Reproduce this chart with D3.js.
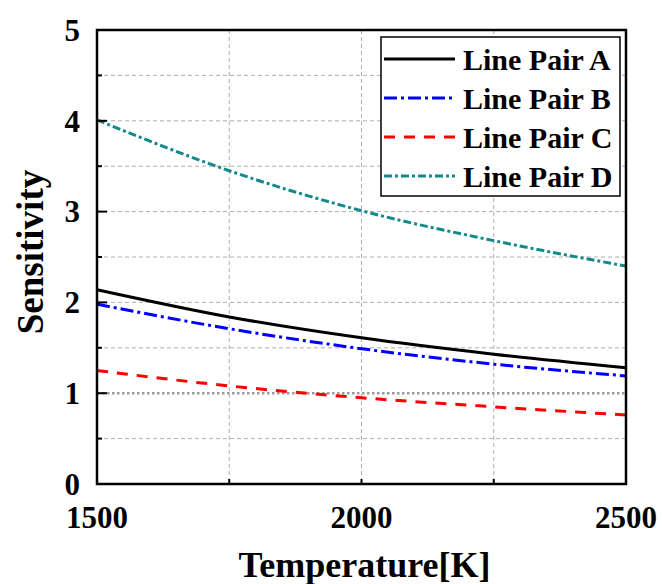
<!DOCTYPE html>
<html>
<head>
<meta charset="utf-8">
<script src="https://cdn.jsdelivr.net/npm/d3@7"></script>
<style>
  body { margin: 0; background: #fff; }
  text { font-family: "Liberation Serif", "Times New Roman", serif; font-weight: bold; }
</style>
</head>
<body>
<svg width="662" height="584"></svg>
<script>
const temperature = [1500, 1750, 2000, 2250, 2500];
const pairA = [2.14, 1.84, 1.61, 1.43, 1.28];
const pairB = [1.98, 1.71, 1.49, 1.32, 1.19];
const pairC = [1.25, 1.08, 0.95, 0.85, 0.76];
const pairD = [4.01, 3.45, 3.01, 2.68, 2.40];
const seriesNames = ["Line Pair A", "Line Pair B", "Line Pair C", "Line Pair D"];
const xTicks = [1500, 2000, 2500];
const yTicks = [0, 1, 2, 3, 4, 5];

const svg = d3.select("svg"),
    margin = {top: 30, right: 36, bottom: 100, left: 97},
    width = +svg.attr("width") - margin.left - margin.right,
    height = +svg.attr("height") - margin.top - margin.bottom,
    g = svg.append("g").attr("transform", "translate(" + margin.left + "," + margin.top + ")");

const x = d3.scaleLinear().domain([1500, 2500]).range([0, width]);
const y = d3.scaleLinear().domain([0, 5]).range([height, 0]);

// grid
g.append("g")
    .selectAll("line")
    .data(d3.range(0.5, 5, 0.5).filter(v => v !== 1))
  .enter().append("line")
    .attr("x1", 0).attr("x2", width)
    .attr("y1", d => y(d)).attr("y2", d => y(d))
    .attr("stroke", "#b0b0b0").attr("stroke-width", 1).attr("stroke-dasharray", "4,3");

g.append("g")
    .selectAll("line")
    .data([1750, 2000, 2250])
  .enter().append("line")
    .attr("y1", 0).attr("y2", height)
    .attr("x1", d => x(d)).attr("x2", d => x(d))
    .attr("stroke", "#b0b0b0").attr("stroke-width", 1).attr("stroke-dasharray", "4,3");

// reference line at 1
g.append("line")
    .attr("x1", 0).attr("x2", width)
    .attr("y1", y(1)).attr("y2", y(1))
    .attr("stroke", "#999").attr("stroke-width", 2.5).attr("stroke-dasharray", "2.5,2.5");

const series = [
  {name: seriesNames[0], values: pairA, color: "#000000", dash: null},
  {name: seriesNames[1], values: pairB, color: "#0000ff", dash: "13,4,3,4"},
  {name: seriesNames[2], values: pairC, color: "#ff0000", dash: "11,9"},
  {name: seriesNames[3], values: pairD, color: "#128a8a", dash: "8,3,3,3"}
];

const line = d3.line()
    .x((d, i) => x(temperature[i]))
    .y(d => y(d))
    .curve(d3.curveMonotoneX);

series.forEach(s => {
  g.append("path")
      .datum(s.values)
      .attr("fill", "none")
      .attr("stroke", s.color)
      .attr("stroke-width", 3)
      .attr("stroke-dasharray", s.dash)
      .attr("d", line);
});

// axes ticks inward
g.append("g")
    .selectAll("line")
    .data(d3.range(0, 5.01, 0.5))
  .enter().append("line")
    .attr("x1", 0).attr("x2", d => Number.isInteger(d) ? 10 : 5)
    .attr("y1", d => y(d)).attr("y2", d => y(d))
    .attr("stroke", "#000").attr("stroke-width", 2);

g.append("g")
    .selectAll("line")
    .data([1750, 2000, 2250])
  .enter().append("line")
    .attr("y1", height).attr("y2", height - 5)
    .attr("x1", d => x(d)).attr("x2", d => x(d))
    .attr("stroke", "#000").attr("stroke-width", 2);

// frame
g.append("rect")
    .attr("width", width).attr("height", height)
    .attr("fill", "none").attr("stroke", "#000").attr("stroke-width", 2.5);

g.selectAll(".ylab")
    .data(yTicks)
  .enter().append("text")
    .attr("x", -17).attr("y", d => y(d)).attr("dy", "0.35em")
    .attr("text-anchor", "end")
    .attr("font-size", 31)
    .text(d => d);

g.selectAll(".xlab")
    .data(xTicks)
  .enter().append("text")
    .attr("x", d => x(d)).attr("y", height + 44)
    .attr("text-anchor", "middle")
    .attr("font-size", 31)
    .text(d => d);

svg.append("text")
    .attr("x", margin.left + width / 2 + 3).attr("y", 577)
    .attr("text-anchor", "middle")
    .attr("font-size", 36)
    .text("Temperature[K]");

svg.append("text")
    .attr("transform", "translate(43,252) rotate(-90)")
    .attr("text-anchor", "middle")
    .attr("font-size", 37)
    .text("Sensitivity");

// legend
const legend = svg.append("g").attr("transform", "translate(381,37)");
legend.append("rect")
    .attr("width", 239).attr("height", 159)
    .attr("fill", "#fff").attr("stroke", "#000").attr("stroke-width", 1.5);

series.forEach((s, i) => {
  const ly = 22 + i * 39;
  legend.append("line")
      .attr("x1", 3).attr("x2", 74)
      .attr("y1", ly).attr("y2", ly)
      .attr("stroke", s.color).attr("stroke-width", 3)
      .attr("stroke-dasharray", s.dash);
  legend.append("text")
      .attr("x", 82).attr("y", ly).attr("dy", "0.35em")
      .attr("font-size", 30)
      .text(s.name);
});
</script>
</body>
</html>
